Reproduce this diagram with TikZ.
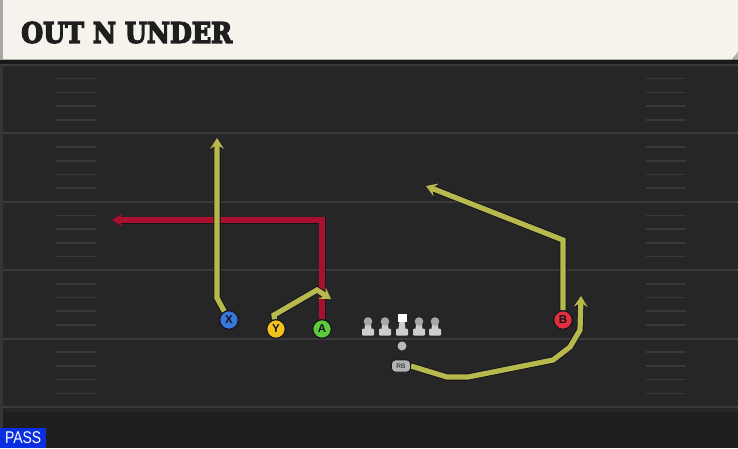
\documentclass[tikz,border=0pt]{standalone}
\usepackage{fontspec}
\usepackage{graphicx}
\setmainfont{DejaVu Sans}
\newfontfamily\titlefont{DejaVu Serif}
\newfontfamily\labelfont{Liberation Sans}
\usetikzlibrary{arrows.meta}
\definecolor{field}{HTML}{262626}
\definecolor{fieldlow}{HTML}{1F1F1F}
\definecolor{yardc}{HTML}{3A3A3A}
\definecolor{hashc}{HTML}{383838}
\definecolor{cream}{HTML}{F6F3EC}
\definecolor{shadowc}{HTML}{191919}
\definecolor{edgec}{HTML}{363636}
\definecolor{routeY}{HTML}{B8B94D}
\definecolor{routeR}{HTML}{A8102E}
\definecolor{outl}{HTML}{14141E}
\definecolor{xblue}{HTML}{3A78D8}
\definecolor{yyellow}{HTML}{F2C21A}
\definecolor{agreen}{HTML}{5ECB3A}
\definecolor{bred}{HTML}{E2303C}
\definecolor{passblue}{HTML}{0A2FE0}
\definecolor{linehead}{HTML}{A8A8A8}
\definecolor{linebody}{HTML}{CDCDCD}
\pgfdeclarelayer{bg}
\pgfdeclarelayer{routes}
\pgfsetlayers{bg,routes,main}
\tikzset{
  yard/.style={draw=yardc, line width=2pt},
  hashm/.style={draw=hashc, line width=1.6pt},
  route/.style={line width=5.2pt, line join=miter, line cap=butt,
    -{Stealth[length=11pt,width=14pt,inset=4.5pt]},
    preaction={draw=outl, line width=7pt, -{Stealth[length=12.5pt,width=16.5pt,inset=5pt]}}},
  yroute/.style={route, draw=routeY},
  rroute/.style={route, draw=routeR},
  player/.style={circle, minimum size=18.5pt, inner sep=0pt, draw=outl, line width=1.1pt,
    font=\labelfont\bfseries\fontsize{11.5}{11.5}\selectfont, text=outl},
}
\begin{document}
\begin{tikzpicture}[x=1pt,y=-1pt]
\useasboundingbox (0,0) rectangle (738,448);
\begin{pgfonlayer}{bg}
\fill[field] (0,0) rectangle (738,448);
\fill[fieldlow] (0,412) rectangle (738,448);
\foreach \y in {65,133.4,201.8,270.2,338.6,407} \draw[yard] (0,\y) -- (738,\y);
\foreach \k in {0,...,4} \foreach \j in {1,2,3,4} {
  \pgfmathsetmacro\yy{65+68.4*\k+13.68*\j}
  \draw[hashm] (56,\yy) -- (96,\yy);
  \draw[hashm] (646,\yy) -- (686,\yy);
}
\fill[edgec] (0,60) rectangle (2.5,448);
\fill[shadowc] (0,59.5) rectangle (738,64);
\fill[gray!70] (0,0) rectangle (3,60);
\fill[cream] (3,0) -- (738,0) -- (738,52) -- (732,59.5) -- (3,59.5) -- cycle;
\fill[gray!60] (732,59.5) -- (738,52) -- (738,59.5) -- cycle;
\end{pgfonlayer}

% title
\node[anchor=west, inner sep=0pt, text={rgb,255:red,30;green,30;blue,30}] (title) at (21,32.5)
  {\resizebox{211pt}{21pt}{\special{pdf:literal direct 2 Tr 0.5 w}\titlefont\bfseries OUT N UNDER\special{pdf:literal direct 0 Tr}}};

% players
\node[player, fill=xblue] (X) at (229,320) {X};
\node[player, fill=yyellow] (Y) at (276,329) {Y};
\node[player, fill=agreen] (A) at (322,329) {A};
\node[player, fill=bred] (B) at (563,320) {B};

% line
\foreach \x/\n in {368/L1,385/L2,419/L4,435/L5} {
  \fill[linebody] (\x-2.5,321) -- (\x+2.5,321) -- (\x+3.5,329) -- (\x-3.5,329) -- cycle;
  \fill[linebody, rounded corners=1pt] (\x-6,328.5) rectangle (\x+6,335.5);
  \fill[linehead] (\x,321.5) circle (4.3pt);
  \coordinate (\n) at (\x,326);
}
\fill[linebody] (399.5,321) -- (404.5,321) -- (405.5,329) -- (398.5,329) -- cycle;
\fill[linebody, rounded corners=1pt] (396,328.5) rectangle (408,335.5);
\fill[white] (397.5,313.5) rectangle (406.5,322);
\coordinate (C) at (402,326);
\node[circle, fill=gray!55, minimum size=9pt, inner sep=0pt] (QB) at (402,346) {};
\node[rounded corners=3.5pt, fill=gray!60, draw=outl, line width=0.9pt, minimum width=19pt,
  minimum height=12pt, inner sep=0pt, font=\labelfont\fontsize{6.5}{6.5}\selectfont, text=outl] (RB) at (401,366) {RB};

% routes
\coordinate (x1) at (217,298);
\coordinate (x2) at (217,138);
\coordinate (y1) at (274,315);
\coordinate (y2) at (317,290);
\coordinate (y3) at (331,299);
\coordinate (a1) at (322,220);
\coordinate (a2) at (112,220);
\coordinate (b1) at (563,240);
\coordinate (b2) at (426,186);
\coordinate (r1) at (447,377);
\coordinate (r2) at (468,377);
\coordinate (r3) at (553,360);
\coordinate (r4) at (570,347);
\coordinate (r5) at (580,330);
\coordinate (r6) at (581,296);
\begin{pgfonlayer}{routes}
\draw[rroute] (A) -- (a1) -- (a2);
\draw[yroute] (X) -- (x1) -- (x2);
\draw[yroute] (Y) -- (y1) -- (y2) -- (y3);
\draw[yroute] (B) -- (b1) -- (b2);
\draw[yroute] (RB.east) -- (r1) -- (r2) -- (r3) -- (r4) -- (r5) -- (r6);
\end{pgfonlayer}

% pass label
\node[fill=passblue, text=white, anchor=south west, minimum width=46pt, minimum height=20pt,
  inner sep=0pt, font=\labelfont\fontsize{17}{17}\selectfont] (pass) at (0,448) {\scalebox{0.82}[1]{PASS}};
\end{tikzpicture}
\end{document}
